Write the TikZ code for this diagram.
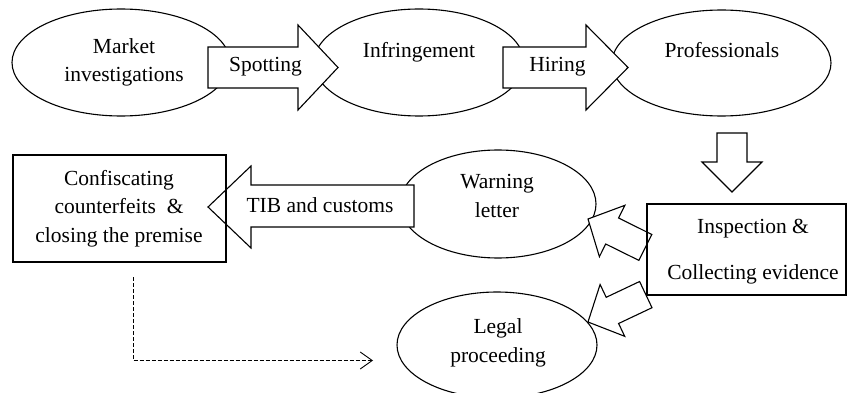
\documentclass[tikz,border=0pt]{standalone}
\usepackage{fontspec}
\setmainfont{Liberation Serif}
\usetikzlibrary{shapes.geometric,arrows.meta}
\begin{document}
\begin{tikzpicture}[x=1pt,y=-1pt,
  ell/.style={ellipse,draw=black,line width=1.1pt,inner sep=0pt},
  boxshape/.style={draw=black,line width=1.1pt},
  blockarrow/.style={draw=black,line width=1.1pt,fill=white,line join=miter},
  txt/.style={font=\fontsize{21.5}{28.5}\selectfont,align=center,inner sep=0pt,text height=15pt,text depth=5pt},
  mtxt/.style={font=\fontsize{21.5}{28.5}\selectfont,align=center,inner sep=0pt},
  dashconn/.style={line width=0.9pt,dash pattern=on 4pt off 2pt,-{Straight Barb[length=12pt,width=17pt,line width=0.9pt]}}
]
\useasboundingbox (0,0) rectangle (848,393);

% ellipses
\node[ell,minimum width=218pt,minimum height=107pt] (e1) at (121,62.5) {};
\node[ell,minimum width=210pt,minimum height=107pt] (e2) at (419,62.5) {};
\node[ell,minimum width=219pt,minimum height=106pt] (e3) at (721.5,63) {};
\node[ell,minimum width=196pt,minimum height=108pt] (e4) at (498,204) {};
\node[ell,minimum width=200pt,minimum height=106pt] (e5) at (497,345) {};

% block arrows
\draw[blockarrow] (208,47) -- (298,47) -- (298,25) -- (338,67.5) -- (298,110) -- (298,88) -- (208,88) -- cycle;
\draw[blockarrow] (503,47) -- (586,47) -- (586,25) -- (628,67.5) -- (586,110) -- (586,88) -- (503,88) -- cycle;
\draw[blockarrow] (414,185) -- (251,185) -- (251,166) -- (208,207) -- (251,248) -- (251,227) -- (414,227) -- cycle;
\draw[blockarrow] (717,133) -- (747,133) -- (747,162) -- (762,162) -- (732,192) -- (702,162) -- (717,162) -- cycle;
\draw[blockarrow] (588,219) -- (624.9,205.3) -- (618.6,218.0) -- (651.8,234.5) -- (638.9,260.4) -- (605.7,244.0) -- (599.4,256.7) -- cycle;
\draw[blockarrow] (588,322) -- (600.1,284.5) -- (606.2,297.3) -- (639.6,281.5) -- (652.0,307.7) -- (618.6,323.5) -- (624.7,336.3) -- cycle;

% boxes
\node[boxshape,minimum width=213pt,minimum height=107pt,inner sep=0pt] (b1) at (119.5,208.5) {};
\node[boxshape,minimum width=199pt,minimum height=91pt,inner sep=0pt] (b2) at (746.5,249.5) {};

% texts
\node[mtxt] (t1) at (124,62.5) {Market\\investigations};
\node[txt] (t2) at (419,53) {Infringement};
\node[txt] (t3) at (722,53) {Professionals};
\node[txt] (t4) at (265.5,67) {Spotting};
\node[txt] (t5) at (557.5,67) {Hiring};
\node[txt] (t6) at (320,207) {TIB and customs};
\node[mtxt] (t7) at (497,196.2) {Warning\\letter};
\node[mtxt] (t8) at (753,252) {Inspection \&\\[17.5pt]Collecting evidence};
\node[mtxt] (t9) at (498,343) {Legal\\proceeding};
\node[mtxt] (t10) at (119,208.5) {Confiscating\\counterfeits~~\&\\closing the premise};

% dashed connector
\coordinate (d0) at (133,277);
\coordinate (d1) at (373,360.5);
\draw[dashconn] (d0) |- (d1);
\end{tikzpicture}
\end{document}
